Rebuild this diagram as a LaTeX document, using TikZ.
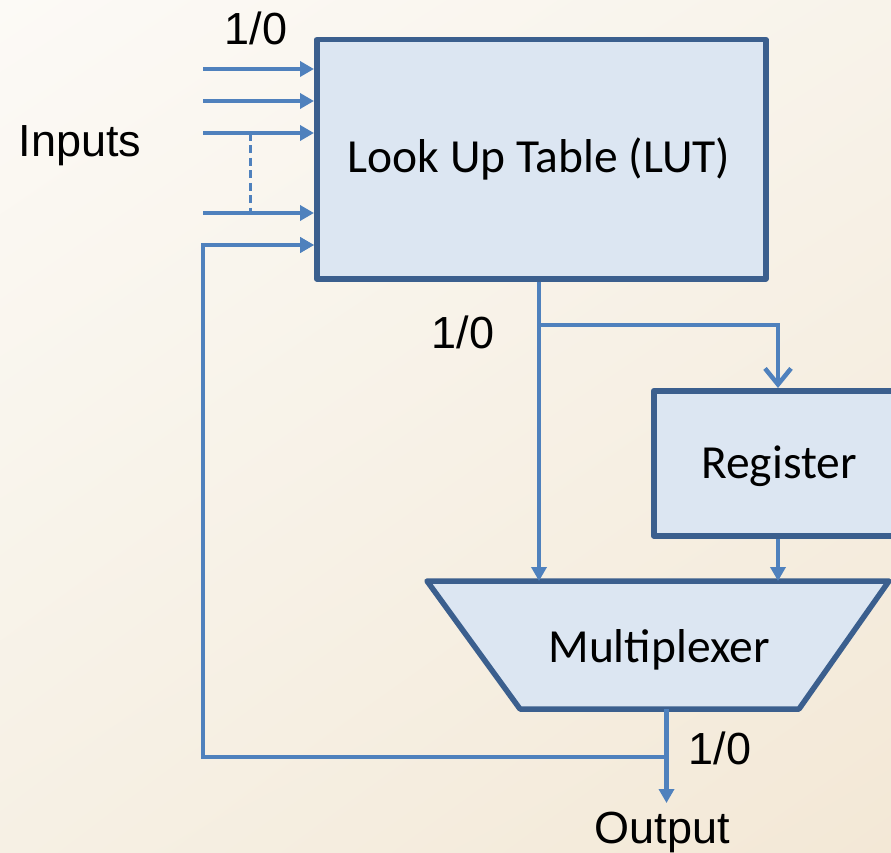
\documentclass[tikz,border=0pt]{standalone}
\usepackage{fontspec}
\setmainfont{Liberation Sans}
\newfontfamily\calib{Carlito}
\usetikzlibrary{arrows.meta,shadings}
\definecolor{bgA}{HTML}{FCFAF6}
\definecolor{bgB}{HTML}{F8F3EA}
\definecolor{bgC}{HTML}{F6F0E4}
\definecolor{bgD}{HTML}{F3E8D6}
\definecolor{boxfill}{HTML}{DCE6F2}
\definecolor{boxline}{HTML}{3B5F8E}
\definecolor{wirec}{HTML}{4F81BD}
\begin{document}
\begin{tikzpicture}[x=1pt,y=-1pt,
 blk/.style={draw=boxline, fill=boxfill, line width=5.5pt, line join=round, inner sep=0pt},
 blktext/.style={font=\calib\fontsize{47.5}{52}\selectfont, inner sep=0pt, anchor=base},
 wire/.style={draw=wirec, line width=4.5pt},
 arr/.style={wire, -{Triangle[length=14pt,width=15pt]}},
 barb/.style={wire, -{Straight Barb[length=16pt,width=26pt,line width=4.5pt]}},
 lbl/.style={font=\fontsize{45}{52}\selectfont, inner sep=0pt, anchor=base}]
\clip (0,0) rectangle (891,853);
\shade[upper left=bgA, upper right=bgB, lower left=bgC, lower right=bgD] (0,0) rectangle (891,853);
% blocks
\node[blk, minimum width=449, minimum height=239, anchor=north west] (lut) at (314,37) {};
\node[blktext] (luttext) at (539,173) {Look Up Table (LUT)};
\node[blk, minimum width=258, minimum height=145, anchor=north west] (reg) at (651,388) {};
\node[blktext] (regtext) at (779,478) {Register};
\coordinate (mtl) at (427,581);
\coordinate (mtr) at (889,581);
\coordinate (mbr) at (799,709);
\coordinate (mbl) at (520,709);
\draw[blk] (mtl) -- (mtr) -- (mbr) -- (mbl) -- cycle;
\node[blktext] (muxtext) at (659,662) {Multiplexer};
% inputs
\coordinate (in1) at (203,69);
\coordinate (in2) at (203,101);
\coordinate (in3) at (203,133);
\coordinate (in4) at (203,213);
\coordinate (in5) at (203,245);
\foreach \i in {in1,in2,in3,in4,in5}
  \draw[arr] (\i) -- (\i -| lut.west);
\coordinate (d1) at (250.5,133);
\coordinate (d2) at (250.5,213);
\draw[wire, line width=3.5pt, dash pattern=on 8pt off 4.5pt] (d1) -- (d2);
% LUT output
\coordinate (lo) at (539,325);
\draw[arr] (lut.south -| lo) -- (mtl -| lo);
\coordinate (bt) at (778,325);
\draw[barb] (lo) -- (bt) -- (bt |- reg.north);
\draw[arr] (reg.south -| bt) -- (mtl -| bt);
% mux output and feedback
\coordinate (mo) at (666.5,709);
\coordinate (outtip) at (666.5,803);
\coordinate (fb) at (666.5,757);
\draw[arr] (mo) -- (outtip);
\draw[arr] (fb) -- (fb -| in5) -- (in5) -- (in5 -| lut.west);
% labels
\node[lbl] (inputs) at (80,157) {Inputs};
\node[lbl] (l1) at (256,45) {1/0};
\node[lbl] (l2) at (463,348) {1/0};
\node[lbl] (l3) at (720,764) {1/0};
\node[lbl] (output) at (662,843) {Output};
\end{tikzpicture}
\end{document}
